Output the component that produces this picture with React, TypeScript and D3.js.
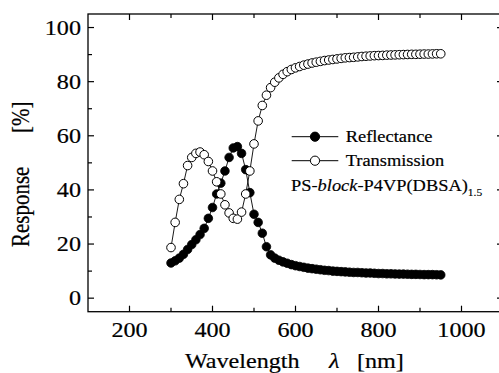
import React from "react";
import * as d3 from "d3";

const wavelengths = [
  300, 310, 320, 330, 340, 350, 360, 370, 380, 390, 400, 410, 420, 430, 440, 450, 460, 470, 480, 490,
  500, 510, 520, 530, 540, 550, 560, 570, 580, 590, 600, 610, 620, 630, 640, 650, 660, 670, 680, 690,
  700, 710, 720, 730, 740, 750, 760, 770, 780, 790, 800, 810, 820, 830, 840, 850, 860, 870, 880, 890,
  900, 910, 920, 930, 940, 950,
];

const reflectance = [
  13.0, 13.8, 14.8, 16.2, 18.0, 19.8, 21.6, 23.5, 25.8, 29.5, 33.5, 38.5, 42.5, 47.0, 52.0, 55.5, 56.0, 53.5, 47.5, 39.0,
  31.0, 28.0, 24.0, 19.0, 16.0, 14.8, 14.0, 13.4, 12.9, 12.4, 12.0, 11.7, 11.4, 11.1, 10.9, 10.7, 10.5, 10.3, 10.2, 10.0,
  9.9, 9.8, 9.7, 9.6, 9.5, 9.5, 9.4, 9.3, 9.3, 9.2, 9.1, 9.1, 9.0, 9.0, 8.95, 8.9, 8.9, 8.85, 8.8, 8.8,
  8.75, 8.7, 8.7, 8.7, 8.65, 8.6,
];

const transmission = [
  18.7, 28.0, 36.5, 42.3, 49.0, 52.0, 53.5, 54.0, 53.0, 50.5, 47.0, 43.0, 38.5, 34.5, 31.5, 29.5, 29.2, 31.8, 38.5, 47.0,
  57.0, 65.5, 71.2, 75.0, 77.8, 79.8, 81.4, 82.7, 83.7, 84.5, 85.1, 85.6, 86.1, 86.5, 86.9, 87.2, 87.5, 87.8, 88.0, 88.2,
  88.4, 88.6, 88.8, 88.9, 89.0, 89.15, 89.3, 89.4, 89.5, 89.6, 89.65, 89.7, 89.8, 89.85, 89.9, 89.95, 90.0, 90.05, 90.1, 90.1,
  90.15, 90.2, 90.2, 90.25, 90.3, 90.3,
];

const xMajorTicks = [200, 400, 600, 800, 1000];
const xMinorTicks = [300, 500, 700, 900];
const yMajorTicks = [0, 20, 40, 60, 80, 100];
const yMinorTicks = [10, 30, 50, 70, 90];

const legendLabels = ["Reflectance", "Transmission"];

const W = 499;
const H = 373;
const FONT = "'Liberation Serif', 'Times New Roman', serif";
const SX = 1.15;

const left = 88;
const top = 14;
const bottom = 311.7;
const right = 503;

const x = d3.scaleLinear().domain([100, 1100]).range([left, right]);
const y = d3.scaleLinear().domain([-5, 105]).range([bottom, top]);

function SText(props: {
  x: number;
  y: number;
  size: number;
  anchor?: string;
  italic?: boolean;
  children: React.ReactNode;
}) {
  return (
    <g transform={`translate(${props.x},${props.y}) scale(${SX},1)`}>
      <text
        x={0}
        y={0}
        fontFamily={FONT}
        fontSize={props.size}
        textAnchor={props.anchor || "start"}
        fontStyle={props.italic ? "italic" : "normal"}
        fill="#000"
        stroke="#000"
        strokeWidth={0.2}
      >
        {props.children}
      </text>
    </g>
  );
}

export default function App() {
  const line = d3
    .line<number>()
    .x((_, i) => x(wavelengths[i]))
    .y((d) => y(d));

  const majorLen = 6;
  const minorLen = 4;
  const r = 4.3;

  return (
    <svg
      width={W}
      height={H}
      style={{ position: "absolute", left: 0, top: 0, background: "#fff" }}
    >
      {/* frame */}
      <rect x={left} y={top} width={right - left} height={bottom - top} fill="none" stroke="#000" strokeWidth={1.3} />

      {/* ticks */}
      {xMajorTicks.map((t) => (
        <g key={"xM" + t}>
          <line x1={x(t)} x2={x(t)} y1={bottom} y2={bottom - majorLen} stroke="#000" strokeWidth={1.2} />
          <line x1={x(t)} x2={x(t)} y1={top} y2={top + majorLen} stroke="#000" strokeWidth={1.2} />
          <SText x={x(t)} y={337} size={21} anchor="middle">
            {t}
          </SText>
        </g>
      ))}
      {xMinorTicks.map((t) => (
        <g key={"xm" + t}>
          <line x1={x(t)} x2={x(t)} y1={bottom} y2={bottom - minorLen} stroke="#000" strokeWidth={1.2} />
          <line x1={x(t)} x2={x(t)} y1={top} y2={top + minorLen} stroke="#000" strokeWidth={1.2} />
        </g>
      ))}
      {yMajorTicks.map((t) => (
        <g key={"yM" + t}>
          <line x1={left} x2={left + majorLen} y1={y(t)} y2={y(t)} stroke="#000" strokeWidth={1.2} />
          <line x1={right} x2={right - majorLen} y1={y(t)} y2={y(t)} stroke="#000" strokeWidth={1.2} />
          <SText x={81} y={y(t) + 7} size={21} anchor="end">
            {t}
          </SText>
        </g>
      ))}
      {yMinorTicks.map((t) => (
        <g key={"ym" + t}>
          <line x1={left} x2={left + minorLen} y1={y(t)} y2={y(t)} stroke="#000" strokeWidth={1.2} />
          <line x1={right} x2={right - minorLen} y1={y(t)} y2={y(t)} stroke="#000" strokeWidth={1.2} />
        </g>
      ))}

      {/* axis titles */}
      <SText x={185} y={368} size={21}>
        Wavelength
      </SText>
      <SText x={329} y={368} size={21} italic>
        λ
      </SText>
      <SText x={357} y={368} size={21}>
        [nm]
      </SText>
      <g transform={`translate(29,247) scale(${SX},1) rotate(-90)`}>
        <text x={0} y={0} fontFamily={FONT} fontSize={21} fill="#000" stroke="#000" strokeWidth={0.2}>
          Response
        </text>
      </g>
      <g transform={`translate(29,133) scale(${SX},1) rotate(-90)`}>
        <text x={0} y={0} fontFamily={FONT} fontSize={21} fill="#000" stroke="#000" strokeWidth={0.2}>
          [%]
        </text>
      </g>

      {/* reflectance */}
      <path d={line(reflectance) || ""} fill="none" stroke="#000" strokeWidth={0.9} />
      {reflectance.map((v, i) => (
        <circle key={"r" + i} cx={x(wavelengths[i])} cy={y(v)} r={r} fill="#000" stroke="#000" strokeWidth={0.8} />
      ))}

      {/* transmission */}
      <path d={line(transmission) || ""} fill="none" stroke="#000" strokeWidth={0.9} />
      {transmission.map((v, i) => (
        <circle key={"t" + i} cx={x(wavelengths[i])} cy={y(v)} r={r} fill="#fff" stroke="#000" strokeWidth={1} />
      ))}

      {/* legend */}
      {legendLabels.map((lab, i) => {
        const cy = 136.7 + i * 24;
        return (
          <g key={lab}>
            <line x1={291.7} x2={338.3} y1={cy} y2={cy} stroke="#000" strokeWidth={1} />
            <circle cx={315} cy={cy} r={4.6} fill={i === 0 ? "#000" : "#fff"} stroke="#000" strokeWidth={1} />
            <SText x={345.7} y={cy + 5} size={16}>
              {lab}
            </SText>
          </g>
        );
      })}
      <g transform={`translate(291,190.5) scale(${SX},1)`}>
        <text x={0} y={0} fontFamily={FONT} fontSize={16} fill="#000" stroke="#000" strokeWidth={0.15}>
          PS-<tspan fontStyle="italic">block</tspan>-P4VP(DBSA)
          <tspan fontSize={10} dy={5}>1.5</tspan>
        </text>
      </g>
    </svg>
  );
}
